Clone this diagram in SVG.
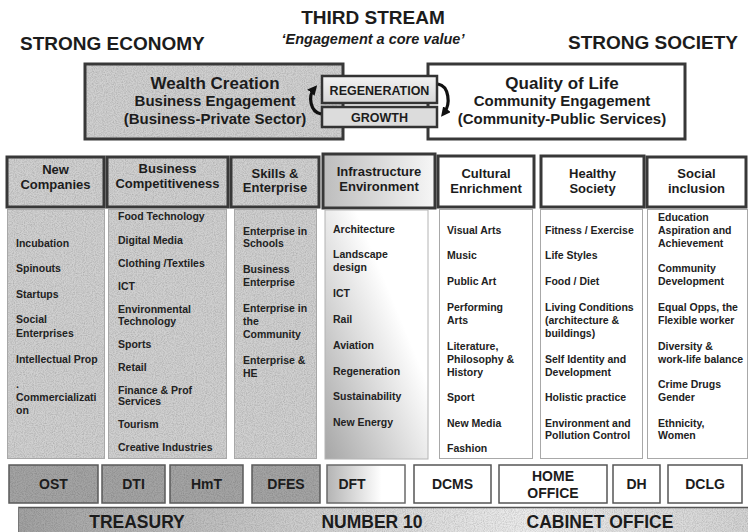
<svg xmlns="http://www.w3.org/2000/svg" width="748" height="532" viewBox="0 0 748 532">
  <defs>
    <style>
      .t { font-family: "Liberation Sans", Arial, Helvetica, sans-serif; fill: #1c1c1c; }
      .b { font-weight: bold; }
      .mid { text-anchor: middle; }
      .title { font-size: 19px; font-weight: bold; }
      .big { font-size: 17px; font-weight: bold; text-anchor: middle; }
      .sub { font-size: 15px; font-weight: bold; text-anchor: middle; }
      .tag { font-size: 12.5px; font-weight: bold; text-anchor: middle; }
      .hdr { font-size: 13px; font-weight: bold; text-anchor: middle; }
      .item { font-size: 10.5px; font-weight: bold; fill: #222; }
      .dept { font-size: 14px; font-weight: bold; text-anchor: middle; }
      .bar { font-size: 17.5px; font-weight: bold; text-anchor: middle; }
      .frame { fill: none; stroke: #383838; stroke-width: 3; }
      .thin { fill: none; stroke: #a8a8a8; stroke-width: 1; }
      .grey { fill: #d0d0d0; }
      .dark { fill: #a4a4a4; }
      .white { fill: #ffffff; }
      .loop { fill: none; stroke: #111; stroke-width: 3.2; }
    </style>
    <!-- speckled stucco texture for the grey panels -->
    <filter id="grain" x="-2%" y="-2%" width="104%" height="104%" color-interpolation-filters="sRGB">
      <feTurbulence type="fractalNoise" baseFrequency="0.9" numOctaves="2" seed="7" result="noise"/>
      <feColorMatrix in="noise" type="saturate" values="0" result="mono"/>
      <feComponentTransfer in="mono" result="soft">
        <feFuncR type="linear" slope="0.4" intercept="0.76"/>
        <feFuncG type="linear" slope="0.4" intercept="0.76"/>
        <feFuncB type="linear" slope="0.4" intercept="0.76"/>
        <feFuncA type="linear" slope="0" intercept="1"/>
      </feComponentTransfer>
      <feBlend in="SourceGraphic" in2="soft" mode="multiply" result="mix"/>
      <feComposite in="mix" in2="SourceGraphic" operator="in"/>
    </filter>
    <linearGradient id="fadeH" x1="0" y1="0" x2="1" y2="0">
      <stop offset="0" stop-color="#bdbdbd"/>
      <stop offset="1" stop-color="#f6f6f6"/>
    </linearGradient>
    <linearGradient id="fadeBody" x1="0" y1="1" x2="1" y2="0">
      <stop offset="0" stop-color="#a6a6a6"/>
      <stop offset="0.65" stop-color="#ffffff"/>
      <stop offset="1" stop-color="#ffffff"/>
    </linearGradient>
    <linearGradient id="fadeDft" x1="0" y1="0" x2="1" y2="0">
      <stop offset="0" stop-color="#b4b4b4"/>
      <stop offset="0.7" stop-color="#ffffff"/>
    </linearGradient>
    <linearGradient id="tagFill" x1="0" y1="0" x2="0" y2="1">
      <stop offset="0" stop-color="#f2f2f2"/>
      <stop offset="1" stop-color="#d6d6d6"/>
    </linearGradient>
    <linearGradient id="barFill" x1="0" y1="0" x2="1" y2="0">
      <stop offset="0" stop-color="#a2a2a2"/>
      <stop offset="0.4" stop-color="#cfcfcf"/>
      <stop offset="0.7" stop-color="#ececec"/>
      <stop offset="1" stop-color="#d4d4d4"/>
    </linearGradient>
    <marker id="head" viewBox="0 0 10 10" refX="5" refY="5" markerWidth="3" markerHeight="3" orient="auto" markerUnits="strokeWidth">
      <path d="M0,0 L10,5 L0,10 Z" fill="#111"/>
    </marker>
  </defs>

  <rect width="748" height="532" fill="#ffffff"/>

  <!-- headings -->
  <g id="headings">
    <text class="t title mid" x="373" y="24">THIRD STREAM</text>
    <text class="t b mid" x="373" y="44" font-size="14.5" font-style="italic">‘Engagement a core value’</text>
    <text class="t title" x="20" y="50">STRONG ECONOMY</text>
    <text class="t title" x="568" y="49">STRONG SOCIETY</text>
  </g>

  <!-- the two engagement streams -->
  <g id="wealth-creation">
    <rect class="grey" x="85" y="64" width="258" height="75" filter="url(#grain)"/>
    <rect class="frame" x="85" y="64" width="258" height="75" stroke-width="3.5"/>
    <text class="t big" x="215" y="89">Wealth Creation</text>
    <text class="t sub" x="215" y="106">Business Engagement</text>
    <text class="t sub" x="215" y="124">(Business-Private Sector)</text>
  </g>

  <g id="quality-of-life">
    <rect class="white" x="428" y="64" width="257" height="75"/>
    <rect class="frame" x="428" y="64" width="257" height="75" stroke-width="3.5"/>
    <text class="t big" x="562" y="89">Quality of Life</text>
    <text class="t sub" x="562" y="106">Community Engagement</text>
    <text class="t sub" x="562" y="124">(Community-Public Services)</text>
  </g>

  <g id="regeneration">
    <rect x="322" y="76" width="115" height="27" fill="url(#tagFill)" stroke="#333" stroke-width="2.5"/>
    <text class="t tag" x="379.5" y="94.5">REGENERATION</text>
  </g>

  <g id="growth">
    <rect x="322" y="107" width="115" height="20" fill="#dcdcdc" stroke="#333" stroke-width="2.5"/>
    <text class="t tag" x="379.5" y="121.5">GROWTH</text>
  </g>

  <!-- cycle between regeneration and growth -->
  <g id="connectors">
    <path class="loop" d="M321,114 C310,112 308,96 314,89" marker-end="url(#head)"/>
    <path class="loop" d="M438,84 C449,86 451,104 444,113" marker-end="url(#head)"/>
  </g>

  <!-- column headers and their lists -->
  <g id="col-new-companies">
    <rect class="grey" x="7" y="157" width="97" height="50" filter="url(#grain)"/>
    <rect class="frame" x="7" y="157" width="97" height="50"/>
    <text class="t hdr" x="55.5" y="174">New</text>
    <text class="t hdr" x="55.5" y="189">Companies</text>
    <rect class="grey" x="7" y="209" width="98" height="250" filter="url(#grain)"/>
    <rect class="thin" x="7.5" y="209.5" width="97" height="249"/>
    <text class="t item" x="16" y="247">Incubation</text>
    <text class="t item" x="16" y="272">Spinouts</text>
    <text class="t item" x="16" y="298">Startups</text>
    <text class="t item" x="16" y="323">Social</text>
    <text class="t item" x="16" y="337">Enterprises</text>
    <text class="t item" x="16" y="363">Intellectual Prop</text>
    <text class="t item" x="16" y="388">.</text>
    <text class="t item" x="16" y="401">Commercializati</text>
    <text class="t item" x="16" y="414">on</text>
  </g>

  <g id="col-business-competitiveness">
    <rect class="grey" x="107" y="157" width="121" height="50" filter="url(#grain)"/>
    <rect class="frame" x="107" y="157" width="121" height="50"/>
    <text class="t hdr" x="167.5" y="173">Business</text>
    <text class="t hdr" x="167.5" y="188">Competitiveness</text>
    <rect class="grey" x="108" y="209" width="119" height="250" filter="url(#grain)"/>
    <rect class="thin" x="108.5" y="209.5" width="118" height="249"/>
    <text class="t item" x="118" y="220">Food Technology</text>
    <text class="t item" x="118" y="244">Digital Media</text>
    <text class="t item" x="118" y="267">Clothing /Textiles</text>
    <text class="t item" x="118" y="290">ICT</text>
    <text class="t item" x="118" y="313">Environmental</text>
    <text class="t item" x="118" y="325">Technology</text>
    <text class="t item" x="118" y="348">Sports</text>
    <text class="t item" x="118" y="371">Retail</text>
    <text class="t item" x="118" y="394">Finance &amp; Prof</text>
    <text class="t item" x="118" y="405">Services</text>
    <text class="t item" x="118" y="428">Tourism</text>
    <text class="t item" x="118" y="451">Creative Industries</text>
  </g>

  <g id="col-skills-enterprise">
    <rect class="grey" x="231" y="157" width="88" height="50" filter="url(#grain)"/>
    <rect class="frame" x="231" y="157" width="88" height="50"/>
    <text class="t hdr" x="275" y="178">Skills &amp;</text>
    <text class="t hdr" x="275" y="192">Enterprise</text>
    <rect class="grey" x="234" y="209" width="83" height="250" filter="url(#grain)"/>
    <rect class="thin" x="234.5" y="209.5" width="82" height="249"/>
    <text class="t item" x="243" y="235">Enterprise in</text>
    <text class="t item" x="243" y="247">Schools</text>
    <text class="t item" x="243" y="273">Business</text>
    <text class="t item" x="243" y="286">Enterprise</text>
    <text class="t item" x="243" y="312">Enterprise in</text>
    <text class="t item" x="243" y="325">the</text>
    <text class="t item" x="243" y="338">Community</text>
    <text class="t item" x="243" y="364">Enterprise &amp;</text>
    <text class="t item" x="243" y="377">HE</text>
  </g>

  <g id="col-infrastructure">
    <rect x="323" y="154" width="112" height="54" fill="url(#fadeH)"/>
    <rect class="frame" x="323" y="154" width="112" height="54"/>
    <text class="t hdr" x="379" y="176">Infrastructure</text>
    <text class="t hdr" x="379" y="191">Environment</text>
    <rect x="325" y="210" width="103" height="249" fill="url(#fadeBody)" stroke="#b4b4b4" stroke-width="1"/>
    <text class="t item" x="333" y="233">Architecture</text>
    <text class="t item" x="333" y="258">Landscape</text>
    <text class="t item" x="333" y="271">design</text>
    <text class="t item" x="333" y="297">ICT</text>
    <text class="t item" x="333" y="323">Rail</text>
    <text class="t item" x="333" y="349">Aviation</text>
    <text class="t item" x="333" y="375">Regeneration</text>
    <text class="t item" x="333" y="400">Sustainability</text>
    <text class="t item" x="333" y="426">New Energy</text>
  </g>

  <g id="col-cultural-enrichment">
    <rect class="white" x="438" y="156" width="96" height="51"/>
    <rect class="frame" x="438" y="156" width="96" height="51"/>
    <text class="t hdr" x="486" y="177.5">Cultural</text>
    <text class="t hdr" x="486" y="192.5">Enrichment</text>
    <rect class="thin" x="439.5" y="209.5" width="93" height="249"/>
    <text class="t item" x="447" y="234">Visual Arts</text>
    <text class="t item" x="447" y="259">Music</text>
    <text class="t item" x="447" y="285">Public Art</text>
    <text class="t item" x="447" y="311">Performing</text>
    <text class="t item" x="447" y="324">Arts</text>
    <text class="t item" x="447" y="350">Literature,</text>
    <text class="t item" x="447" y="363">Philosophy &amp;</text>
    <text class="t item" x="447" y="376">History</text>
    <text class="t item" x="447" y="401">Sport</text>
    <text class="t item" x="447" y="427">New Media</text>
    <text class="t item" x="447" y="452">Fashion</text>
  </g>

  <g id="col-healthy-society">
    <rect class="white" x="541" y="156" width="103" height="51"/>
    <rect class="frame" x="541" y="156" width="103" height="51"/>
    <text class="t hdr" x="592.5" y="177.5">Healthy</text>
    <text class="t hdr" x="592.5" y="192.5">Society</text>
    <rect class="thin" x="540.5" y="209.5" width="102" height="249"/>
    <text class="t item" x="545" y="234">Fitness / Exercise</text>
    <text class="t item" x="545" y="259">Life Styles</text>
    <text class="t item" x="545" y="285">Food / Diet</text>
    <text class="t item" x="545" y="311">Living Conditions</text>
    <text class="t item" x="545" y="324">(architecture &amp;</text>
    <text class="t item" x="545" y="337">buildings)</text>
    <text class="t item" x="545" y="363">Self Identity and</text>
    <text class="t item" x="545" y="376">Development</text>
    <text class="t item" x="545" y="401">Holistic practice</text>
    <text class="t item" x="545" y="427">Environment and</text>
    <text class="t item" x="545" y="439">Pollution Control</text>
  </g>

  <g id="col-social-inclusion">
    <rect class="white" x="647" y="157" width="99" height="50"/>
    <rect class="frame" x="647" y="157" width="99" height="50"/>
    <text class="t hdr" x="696.5" y="178">Social</text>
    <text class="t hdr" x="696.5" y="193">inclusion</text>
    <rect class="thin" x="647.5" y="209.5" width="100" height="249"/>
    <text class="t item" x="658" y="221">Education</text>
    <text class="t item" x="658" y="234">Aspiration and</text>
    <text class="t item" x="658" y="247">Achievement</text>
    <text class="t item" x="658" y="272">Community</text>
    <text class="t item" x="658" y="285">Development</text>
    <text class="t item" x="658" y="311">Equal Opps, the</text>
    <text class="t item" x="658" y="324">Flexible worker</text>
    <text class="t item" x="658" y="350">Diversity &amp;</text>
    <text class="t item" x="658" y="363">work-life balance</text>
    <text class="t item" x="658" y="388">Crime Drugs</text>
    <text class="t item" x="658" y="401">Gender</text>
    <text class="t item" x="658" y="427">Ethnicity,</text>
    <text class="t item" x="658" y="439">Women</text>
  </g>

  <!-- government departments -->
  <g id="dept-ost">
    <rect class="dark" x="9" y="465" width="89" height="38" filter="url(#grain)"/>
    <rect x="9" y="465" width="89" height="38" fill="none" stroke="#5a5a5a" stroke-width="1.5"/>
    <text class="t dept" x="53.5" y="489">OST</text>
  </g>
  <g id="dept-dti">
    <rect class="dark" x="102" y="465" width="63" height="38" filter="url(#grain)"/>
    <rect x="102" y="465" width="63" height="38" fill="none" stroke="#5a5a5a" stroke-width="1.5"/>
    <text class="t dept" x="133.5" y="489">DTI</text>
  </g>
  <g id="dept-hmt">
    <rect class="dark" x="170" y="465" width="73" height="38" filter="url(#grain)"/>
    <rect x="170" y="465" width="73" height="38" fill="none" stroke="#5a5a5a" stroke-width="1.5"/>
    <text class="t dept" x="206.5" y="489">HmT</text>
  </g>
  <g id="dept-dfes">
    <rect class="dark" x="252" y="465" width="68" height="38" filter="url(#grain)"/>
    <rect x="252" y="465" width="68" height="38" fill="none" stroke="#5a5a5a" stroke-width="1.5"/>
    <text class="t dept" x="286" y="489">DFES</text>
  </g>
  <g id="dept-dft">
    <rect x="327" y="465" width="78" height="38" fill="url(#fadeDft)" stroke="#6a6a6a" stroke-width="1.5"/>
    <text class="t dept" x="352" y="489">DFT</text>
  </g>
  <g id="dept-dcms">
    <rect class="white" x="414" y="465" width="77" height="38" stroke="#555" stroke-width="1.5"/>
    <text class="t dept" x="452.5" y="489">DCMS</text>
  </g>
  <g id="dept-home-office">
    <rect class="white" x="499" y="465" width="108" height="38" stroke="#555" stroke-width="1.5"/>
    <text class="t dept" x="553" y="481">HOME</text>
    <text class="t dept" x="553" y="498">OFFICE</text>
  </g>
  <g id="dept-dh">
    <rect class="white" x="613" y="465" width="47" height="38" stroke="#555" stroke-width="1.5"/>
    <text class="t dept" x="636.5" y="489">DH</text>
  </g>
  <g id="dept-dclg">
    <rect class="white" x="668" y="465" width="74" height="38" stroke="#555" stroke-width="1.5"/>
    <text class="t dept" x="705" y="489">DCLG</text>
  </g>

  <!-- central government band -->
  <g id="central-government">
    <rect x="18" y="507" width="730" height="25" fill="url(#barFill)" filter="url(#grain)"/>
    <line x1="18" y1="507.5" x2="748" y2="507.5" stroke="#555" stroke-width="1.5"/>
    <line x1="18.5" y1="507" x2="18.5" y2="532" stroke="#777" stroke-width="1"/>
    <text class="t bar" x="137" y="527.5">TREASURY</text>
    <text class="t bar" x="372" y="527.5">NUMBER 10</text>
    <text class="t bar" x="600" y="527.5">CABINET OFFICE</text>
  </g>
</svg>
